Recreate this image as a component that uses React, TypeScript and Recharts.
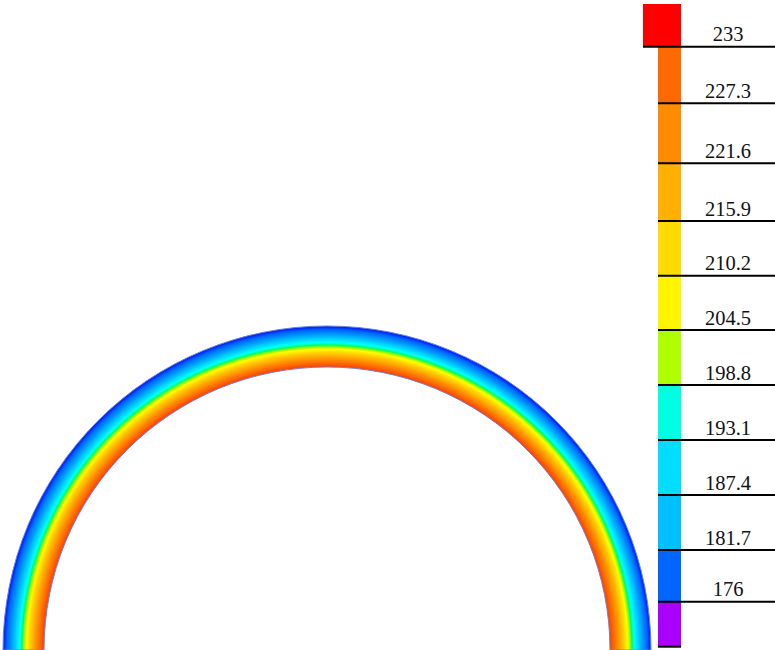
import React from 'react'
import { PieChart, Pie, Cell } from 'recharts'

// contour levels shown on the colour bar (top to bottom)
const levels = [233, 227.3, 221.6, 215.9, 210.2, 204.5, 198.8, 193.1, 187.4, 181.7, 176]
const levelColors = ['#ff0000', '#ff6a00', '#ff8c00', '#ffb000', '#ffdc00', '#fff500', '#b0ff00', '#00ffe2', '#00ddff', '#00c0ff', '#0066ff']
const belowColor = '#aa00ff'

// the half ring (one slice spanning 180 degrees)
const ringData = [{ name: 'ring', value: 1 }]

// radial colour ramp across the ring, inner edge -> outer edge
const ringStops = [
  { at: 0.873, color: '#ff3c00' },
  { at: 0.886, color: '#ff6a00' },
  { at: 0.901, color: '#ff9a00' },
  { at: 0.917, color: '#ffd000' },
  { at: 0.929, color: '#ffff00' },
  { at: 0.935, color: '#a0ff00' },
  { at: 0.941, color: '#00ff60' },
  { at: 0.949, color: '#00ffff' },
  { at: 0.96, color: '#00d4ff' },
  { at: 0.974, color: '#009cff' },
  { at: 0.988, color: '#0066ff' },
  { at: 1, color: '#0010ff' },
]

const W = 775
const H = 650
const CX = 327
const CY = 650
const R_OUT = 324
const R_IN = 283

// y of the black separator under each label, then the bottom of the purple block
const LINE_Y = [46.7, 103.3, 163.3, 221, 275.7, 330, 385, 440, 495, 550, 601.7, 646.7]
const BAR_X = 658
const BAR_W = 23
const BOX_X = 643
const BOX_TOP = 4
const LABEL_X = 728

const ColorBar = () => {
  return (
    <svg width={W} height={H} style={{ position: 'absolute', left: 0, top: 0, pointerEvents: 'none' }}>
      <rect x={BOX_X} y={BOX_TOP} width={BAR_X + BAR_W - BOX_X} height={LINE_Y[0] - BOX_TOP} fill={levelColors[0]} />
      {levels.slice(1).map((_, i) => (
        <rect key={'b' + i} x={BAR_X} y={LINE_Y[i]} width={BAR_W} height={LINE_Y[i + 1] - LINE_Y[i]} fill={levelColors[i + 1]} />
      ))}
      <rect x={BAR_X} y={LINE_Y[10]} width={BAR_W} height={LINE_Y[11] - LINE_Y[10]} fill={belowColor} />
      {levels.map((v, i) => (
        <g key={'l' + i}>
          <line x1={i === 0 ? BOX_X : BAR_X} x2={W} y1={LINE_Y[i]} y2={LINE_Y[i]} stroke="#000" strokeWidth={2} />
          <text x={LABEL_X} y={LINE_Y[i] - 5.5} textAnchor="middle" fontFamily="'Liberation Serif', 'Times New Roman', serif" fontSize={20.5} fill="#111">
            {v}
          </text>
        </g>
      ))}
      <line x1={BAR_X} x2={BAR_X + BAR_W} y1={LINE_Y[11]} y2={LINE_Y[11]} stroke="#000" strokeWidth={2} />
    </svg>
  )
}

const App = () => {
  return (
    <div style={{ position: 'absolute', left: 0, top: 0, width: W, height: H, background: '#fff' }}>
      <PieChart width={W} height={H} margin={{ top: 0, right: 0, bottom: 0, left: 0 }}>
        <defs>
          <radialGradient id="ringGrad" gradientUnits="userSpaceOnUse" cx={CX} cy={CY} r={R_OUT}>
            {ringStops.map((s, i) => (
              <stop key={i} offset={s.at} stopColor={s.color} />
            ))}
          </radialGradient>
        </defs>
        <Pie
          data={ringData}
          dataKey="value"
          nameKey="name"
          cx={CX}
          cy={CY}
          startAngle={180}
          endAngle={0}
          innerRadius={R_IN}
          outerRadius={R_OUT}
          stroke="#6f82d6"
          strokeWidth={1}
          isAnimationActive={false}
        >
          {ringData.map((_, i) => (
            <Cell key={i} fill="url(#ringGrad)" />
          ))}
        </Pie>
      </PieChart>
      <ColorBar />
    </div>
  )
}

export default App
